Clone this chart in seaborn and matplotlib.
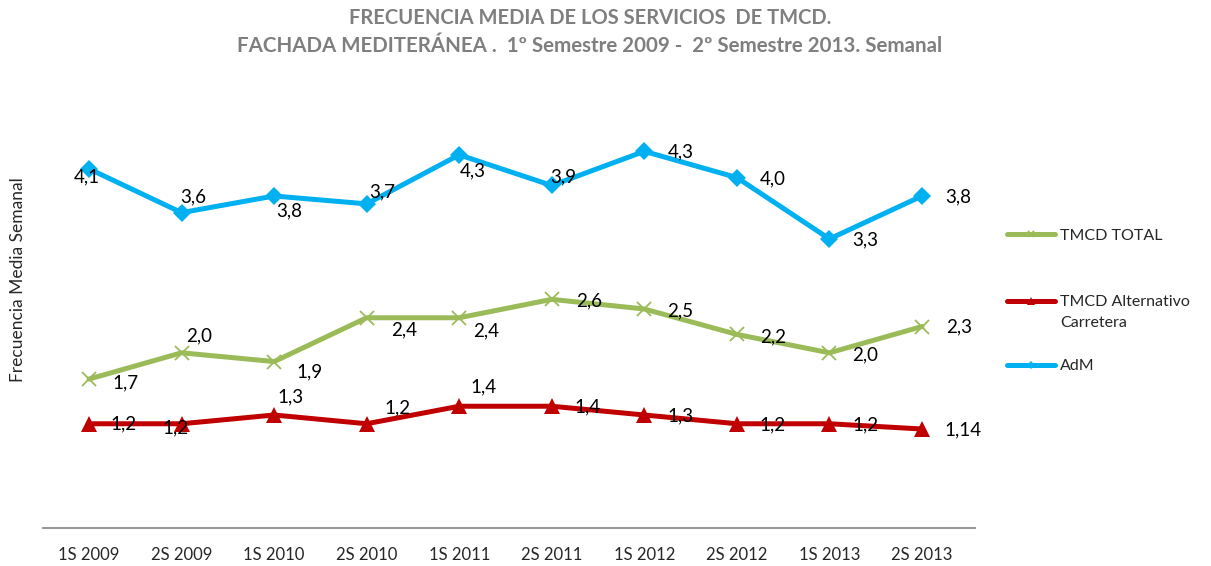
import matplotlib
matplotlib.use("Agg")
import matplotlib.pyplot as plt
import seaborn as sns
import pandas as pd

categories = ["1S 2009", "2S 2009", "1S 2010", "2S 2010", "1S 2011",
              "2S 2011", "1S 2012", "2S 2012", "1S 2013", "2S 2013"]
tmcd_total = [1.70, 2.00, 1.90, 2.40, 2.40, 2.61, 2.50, 2.21, 2.00, 2.30]
tmcd_total_labels = ["1,7", "2,0", "1,9", "2,4", "2,4", "2,6", "2,5", "2,2", "2,0", "2,3"]
tmcd_alt = [1.19, 1.19, 1.29, 1.19, 1.39, 1.39, 1.29, 1.19, 1.19, 1.13]
tmcd_alt_labels = ["1,2", "1,2", "1,3", "1,2", "1,4", "1,4", "1,3", "1,2", "1,2", "1,14"]
adm = [4.10, 3.60, 3.79, 3.70, 4.26, 3.91, 4.30, 4.00, 3.30, 3.79]
adm_labels = ["4,1", "3,6", "3,8", "3,7", "4,3", "3,9", "4,3", "4,0", "3,3", "3,8"]

series_names = ["TMCD TOTAL", "TMCD Alternativo\nCarretera", "AdM"]

# label offsets (pixels) - styling only
off_total = [(36, -4), (18, 17), (35, -10), (37, -12), (27, -13), (37, -2), (36, -2), (36, -2), (36, -2), (37, 0)]
off_alt = [(34, 0), (-6, -4), (16, 18), (31, 16), (24, 19), (36, -1), (36, -1), (36, -1), (36, -1), (41, -1)]
off_adm = [(-2, -8), (12, 16), (15, -15), (16, 12), (14, -16), (11, 9), (36, -1), (36, -1), (36, -1), (36, -1)]

sns.set_style("white")
plt.rcParams["font.family"] = ["Lato", "DejaVu Sans"]

fig = plt.figure(figsize=(12.11, 5.66), dpi=100)
ax = fig.add_axes([43 / 1211, 38 / 566, (975 - 43) / 1211, (528 - 90) / 566])

df = pd.DataFrame({"cat": categories, "total": tmcd_total, "alt": tmcd_alt, "adm": adm})

specs = [
    ("total", series_names[0], "#9BBB59", "x", 10, tmcd_total_labels, off_total),
    ("alt", series_names[1], "#C00000", "^", 12, tmcd_alt_labels, off_alt),
    ("adm", series_names[2], "#00B0F0", "D", 9, adm_labels, off_adm),
]
for col, name, color, mk, ms, labs, offs in specs:
    sns.lineplot(data=df, x="cat", y=col, ax=ax, color=color, linewidth=3.6,
                 marker=mk, markersize=ms, markeredgewidth=1.3 if mk == "x" else 0,
                 markeredgecolor=color, label=name, sort=False)
    for i, (v, t, o) in enumerate(zip(df[col], labs, offs)):
        ax.annotate(t, (i, v), xytext=o, textcoords="offset pixels",
                    ha="center", va="center", fontsize=13.5, color="#000000")

unit = (922 - 89) / 9
ax.set_xlim(-46 / unit, 9 + 53 / unit)
ax.set_ylim(0, 5)
ax.set_yticks([])
ax.set_xlabel("")
ax.set_ylabel("Frecuencia Media Semanal", fontsize=12.5)
ax.yaxis.set_label_coords((26 - 43) / 932, (528 - 280) / 438)
for s in ["top", "right", "left"]:
    ax.spines[s].set_visible(False)
ax.spines["bottom"].set_color("#999999")
ax.spines["bottom"].set_linewidth(1.5)
ax.tick_params(axis="x", length=0, pad=14, labelsize=12)

h, l = ax.get_legend_handles_labels()
leg = ax.legend(h, l, loc="upper left", bbox_to_anchor=(993 / 1211, (566 - 214) / 566),
                bbox_transform=fig.transFigure, frameon=False, fontsize=11.5,
                handlelength=3.0, handletextpad=0.3, labelspacing=2.55, markerscale=0.5)
for line in leg.get_lines():
    line.set_linewidth(3.6)
t2 = leg.get_texts()[1]
t2.set_linespacing(1.65)
t2.set_y(-12)

fig.text(0.487, 1 - 18 / 566, "FRECUENCIA MEDIA DE LOS SERVICIOS  DE TMCD.",
         ha="center", va="center", fontsize=14.5, fontweight="bold", color="#7F7F7F")
fig.text(0.487, 1 - 46 / 566, "FACHADA MEDITERÁNEA .  1º Semestre 2009 -  2º Semestre 2013. Semanal",
         ha="center", va="center", fontsize=14.8, fontweight="bold", color="#7F7F7F")

fig.savefig("out.png", dpi=100)
